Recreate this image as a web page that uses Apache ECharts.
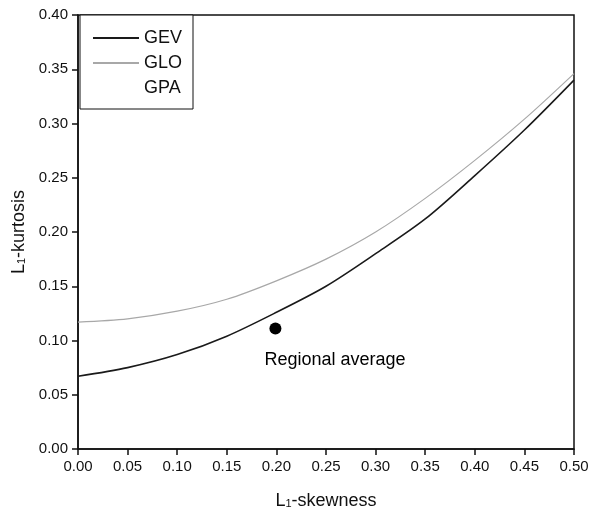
<!DOCTYPE html>
<html>
<head>
<meta charset="utf-8">
<script src="https://cdn.jsdelivr.net/npm/echarts@6/dist/echarts.min.js"></script>
<style>
  html, body { margin: 0; padding: 0; background: #fff; }
  #chart { width: 591px; height: 517px; }
</style>
</head>
<body>
<div id="chart"></div>
<script>
const skewness = [0, 0.05, 0.10, 0.15, 0.20, 0.25, 0.30, 0.35, 0.40, 0.45, 0.50]
const gevKurtosis = [0.067, 0.075, 0.087, 0.104, 0.126, 0.150, 0.180, 0.212, 0.252, 0.294, 0.340]
const gloKurtosis = [0.117, 0.120, 0.127, 0.138, 0.155, 0.175, 0.200, 0.231, 0.266, 0.304, 0.346]
const gpaKurtosis = []
const regionalAverage = [[0.199, 0.111]]
const seriesNames = ['GEV', 'GLO', 'GPA']

const font = 'Liberation Sans, Arial, sans-serif'
const toPairs = ys => ys.map((y, i) => [skewness[i], y])

const chart = echarts.init(document.getElementById('chart'))

const subStyle = {
  a: { fontSize: 18, fontFamily: font, color: '#111', lineHeight: 18 },
  sub: { fontSize: 11, fontFamily: font, color: '#111', lineHeight: 11, padding: [20, 0, 0, 0], verticalAlign: 'bottom' }
}

const option = {
  animation: false,
  backgroundColor: '#fff',
  grid: {
    left: 78,
    right: 17,
    top: 15,
    bottom: 68,
    outerBoundsMode: 'none',
    containLabel: false,
    show: true,
    borderColor: '#111',
    borderWidth: 1.5
  },
  legend: {
    data: seriesNames,
    orient: 'vertical',
    left: 80,
    top: 15,
    padding: [14, 11, 12, 12],
    itemGap: 7,
    itemWidth: 46,
    itemHeight: 18,
    borderColor: '#111',
    borderWidth: 1,
    backgroundColor: '#fff',
    itemStyle: { opacity: 0 },
    textStyle: { fontSize: 18, fontFamily: font, color: '#111' }
  },
  xAxis: {
    type: 'value',
    min: 0,
    max: 0.5,
    interval: 0.05,
    name: '{a|L}{sub|1}{a|-skewness}',
    nameLocation: 'middle',
    nameGap: 36,
    nameTextStyle: { rich: subStyle },
    axisLine: { lineStyle: { color: '#111', width: 1.5 } },
    axisTick: { inside: false, length: 6, lineStyle: { color: '#111', width: 1.5 } },
    axisLabel: {
      margin: 10,
      fontSize: 15,
      fontFamily: font,
      color: '#111',
      formatter: v => v.toFixed(2)
    },
    splitLine: { show: false }
  },
  yAxis: {
    type: 'value',
    min: 0,
    max: 0.4,
    interval: 0.05,
    name: '{a|L}{sub|1}{a|-kurtosis}',
    nameLocation: 'middle',
    nameGap: 50,
    nameTextStyle: { rich: subStyle },
    axisLine: { lineStyle: { color: '#111', width: 1.5 } },
    axisTick: { inside: false, length: 6, lineStyle: { color: '#111', width: 1.5 } },
    axisLabel: {
      margin: 10,
      fontSize: 15,
      fontFamily: font,
      color: '#111',
      formatter: v => v.toFixed(2)
    },
    splitLine: { show: false }
  },
  series: [
    {
      name: 'GEV',
      type: 'line',
      smooth: 0.3,
      symbol: 'none',
      data: toPairs(gevKurtosis),
      lineStyle: { color: '#1a1a1a', width: 1.6 },
      itemStyle: { color: '#1a1a1a' }
    },
    {
      name: 'GLO',
      type: 'line',
      smooth: 0.3,
      symbol: 'none',
      data: toPairs(gloKurtosis),
      lineStyle: { color: '#a8a8a8', width: 1.2 },
      itemStyle: { color: '#a8a8a8' }
    },
    {
      name: 'GPA',
      type: 'line',
      symbol: 'none',
      data: toPairs(gpaKurtosis),
      lineStyle: { color: 'rgba(0,0,0,0)', width: 1 },
      itemStyle: { color: 'rgba(0,0,0,0)' }
    },
    {
      name: 'Regional average',
      type: 'scatter',
      symbol: 'circle',
      symbolSize: 12,
      data: regionalAverage,
      itemStyle: { color: '#000', opacity: 1 },
      label: {
        show: true,
        formatter: 'Regional average',
        position: [-5, 37],
        align: 'left',
        verticalAlign: 'middle',
        fontSize: 18,
        fontFamily: font,
        color: '#000',
        opacity: 1
      }
    }
  ]
}

chart.setOption(option)
</script>
</body>
</html>
